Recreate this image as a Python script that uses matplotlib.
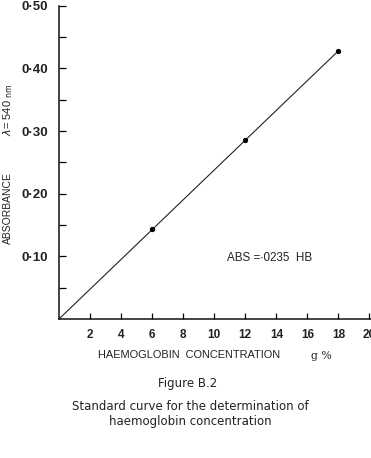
import matplotlib.pyplot as plt
import numpy as np

# standard curve readings
conc = [6, 12, 18]
absorb = [0.143, 0.285, 0.428]
line_x = [0, 18]
line_y = [0, 0.428]
xticks = [2, 4, 6, 8, 10, 12, 14, 16, 18, 20]
yticks = [0.10, 0.20, 0.30, 0.40, 0.50]
ytick_labels = ['0·10', '0·20', '0·30', '0·40', '0·50']

fig = plt.figure(figsize=(3.71, 4.58), dpi=100, facecolor='white')
ax = fig.add_axes([59 / 371, 1 - 319 / 458, (371 - 59) / 371, (319 - 5.7) / 458])

ax.plot(line_x, line_y, color='#222222', linewidth=0.8)
ax.plot(conc, absorb, 'o', color='black', markersize=2.8)

ax.set_xlim(0, 20.1)
ax.set_ylim(0, 0.50)

for s in ['top', 'right']:
    ax.spines[s].set_visible(False)
for s in ['left', 'bottom']:
    ax.spines[s].set_linewidth(1.1)
    ax.spines[s].set_color('#111111')

ax.set_xticks(xticks)
ax.set_xticklabels([str(v) for v in xticks], fontsize=8.5, fontweight='bold',
                   color='#222222', family='Liberation Sans')
ax.set_yticks(yticks)
ax.set_yticklabels(ytick_labels, fontsize=9.5, fontweight='bold',
                   color='#222222', family='Liberation Sans')
ax.set_yticks(np.arange(0.05, 0.5, 0.1), minor=True)
ax.tick_params(axis='y', which='both', direction='in', length=5, width=0.9, pad=8)
ax.tick_params(axis='x', which='major', direction='in', length=4, width=0.9, pad=7)

# axis labels
fig.text(189 / 371, 1 - 355 / 458, 'HAEMOGLOBIN  CONCENTRATION', ha='center', va='center',
         fontsize=7.9, color='#222222', family='Liberation Sans')
fig.text(321 / 371, 1 - 356 / 458, 'g %', ha='center', va='center',
         fontsize=7.8, color='#222222', family='DejaVu Serif')
fig.text(8 / 371, 1 - 208 / 458, 'ABSORBANCE', ha='center', va='center', rotation=90,
         fontsize=7.5, color='#222222', family='Liberation Sans')
fig.text(8 / 371, 1 - 110 / 458, r'$\lambda$= 540 $_{\rm nm}$', ha='center', va='center',
         rotation=90, fontsize=8, color='#222222', family='Liberation Sans')

ax.text(10.85, 0.097, 'ABS =∙0235  HB', ha='left', va='center',
        fontsize=8.4, color='#222222', family='Liberation Sans')

# caption
fig.text(188 / 371, 1 - 384 / 458, 'Figure B.2', ha='center', va='center',
         fontsize=8.5, color='#222222', family='DejaVu Sans')
fig.text(190 / 371, 1 - 407 / 458, 'Standard curve for the determination of',
         ha='center', va='center', fontsize=8.5, color='#222222', family='DejaVu Sans')
fig.text(190 / 371, 1 - 421 / 458, 'haemoglobin concentration',
         ha='center', va='center', fontsize=8.5, color='#222222', family='DejaVu Sans')

plt.savefig('out.png', dpi=100, facecolor='white')
plt.close()
